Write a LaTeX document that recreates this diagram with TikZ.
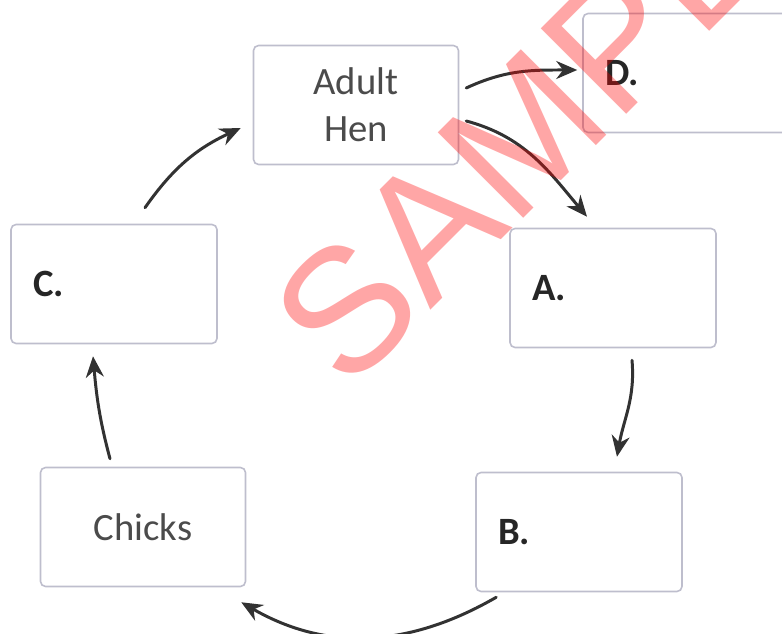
\documentclass[tikz,border=0pt]{standalone}
\usepackage{fontspec}
\setmainfont{Carlito}
\newfontfamily\markfont{Liberation Sans}
\usetikzlibrary{arrows.meta}
\definecolor{boxline}{RGB}{190,190,205}
\definecolor{arrowgray}{RGB}{50,50,50}
\definecolor{labelgray}{RGB}{75,75,75}
\begin{document}
\begin{tikzpicture}[x=0.02cm,y=0.02cm,line join=round,line cap=round,>={Stealth[length=0.42cm,width=0.36cm]},
	stage/.style={draw=boxline,line width=0.9pt,rounded corners=0.1cm,fill=white,minimum width=4.1cm,minimum height=2.38cm,inner sep=0pt,font=\fontsize{22}{27}\selectfont,text=labelgray,align=center},
	blank/.style={stage,text width=3.24cm,inner xsep=0.44cm,align=left,font=\fontsize{22}{27}\selectfont\bfseries,text=black!85},
	cycle/.style={->,draw=arrowgray,line width=1.7pt}]
			\useasboundingbox[fill=white] (0,0) rectangle (782,-634);
			\node[stage] (hen) at (356,-105) {Adult\\Hen};
			\node[blank] (D) at (686,-73) {D.};
			\node[blank] (A) at (613,-288) {A.};
			\node[blank] (B) at (579,-532) {B.};
			\node[stage] (chicks) at (143,-527) {Chicks};
			\node[blank] (C) at (114,-284) {C.};
			\draw[cycle] ([shift={(7,17)}]hen.east) to[out=25,in=180] ([shift={(-5,3)}]D.west);
			\draw[cycle] ([shift={(7,-16)}]hen.east) to[out=-15,in=130] ([shift={(-26,11)}]A.north);
			\draw[cycle] ([shift={(19,-12)}]A.south) to[out=-85,in=80] ([shift={(38,15)}]B.north);
			\draw[cycle] ([shift={(21,-5)}]B.south west) to[out=-150,in=-30] ([shift={(-5,-15)}]chicks.south east);
			\draw[cycle] ([shift={(-33,8)}]chicks.north) to[out=105,in=-85] ([shift={(-21,-12)}]C.south);
			\draw[cycle] ([shift={(31,16)}]C.north) to[out=55,in=205] ([shift={(-12,-23)}]hen.west);
			\node[rotate=45,text=red,text opacity=0.35,inner sep=0pt,font=\markfont\fontsize{100}{100}\selectfont] (mark) at (557,-99) {SAMPLE};
			\end{tikzpicture}
\end{document}
